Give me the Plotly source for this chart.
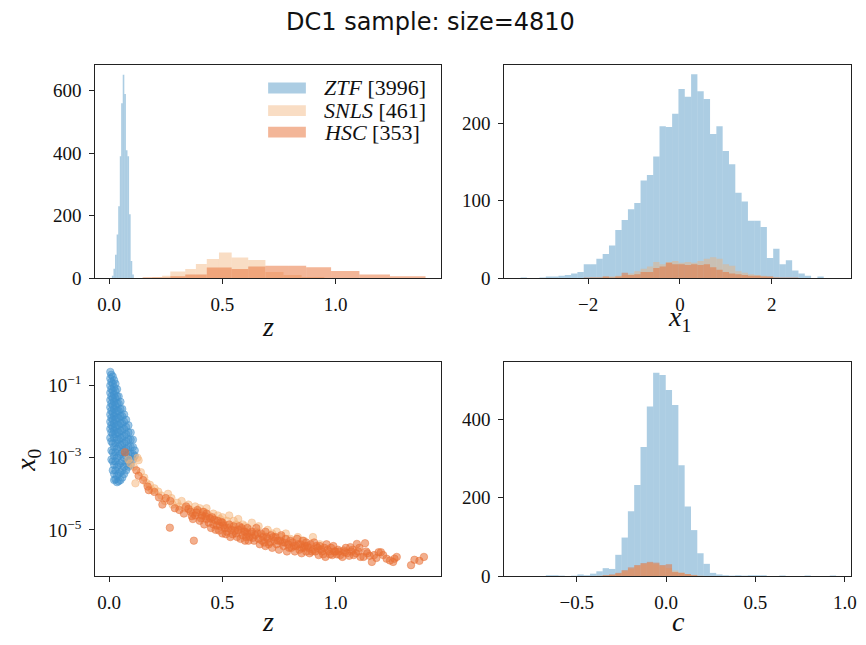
import numpy as np
import plotly.graph_objects as go

# ---------------- data ----------------
survey_names = ["ZTF", "SNLS", "HSC"]
survey_sizes = [3996, 461, 353]
sample_size = 4810

# z histograms (bin edges, counts)
ztf_z_edges = [0.012, 0.019, 0.026, 0.033, 0.040, 0.047, 0.053, 0.060, 0.067,
               0.074, 0.081, 0.088, 0.095, 0.102, 0.109]
ztf_z_counts = [8, 30, 75, 140, 230, 390, 560, 651, 590, 410, 390, 205, 55, 12]
snls_z_edges = [0.145, 0.19, 0.234, 0.27, 0.336, 0.383, 0.431, 0.485, 0.541,
                0.614, 0.69, 0.77, 0.85, 0.95]
snls_z_counts = [2, 4, 8, 21, 29, 45, 61, 82, 66, 58, 20, 10, 4]
hsc_z_edges = [0.15, 0.27, 0.336, 0.431, 0.541, 0.614, 0.69, 0.79, 0.87,
               0.98, 1.105, 1.24, 1.397]
hsc_z_counts = [2, 6, 12, 34, 29, 37, 40, 40, 35, 23, 12, 6]

# x1 histograms
ztf_x1_range = (-3.47, 3.13)
ztf_x1_counts = [1, 0, 0, 1, 2, 2, 3, 4, 6, 8, 18, 18, 25, 31, 42, 62, 75, 89,
                 97, 126, 133, 157, 196, 195, 212, 244, 234, 263, 241, 231,
                 186, 196, 164, 147, 110, 99, 74, 74, 66, 26, 38, 18, 23, 10,
                 6, 3, 0, 2]
snls_x1_range = (-2.095, 2.305)
snls_x1_counts = [0, 1, 1, 2, 2, 3, 4, 6, 9, 12, 15, 21, 18, 21, 22, 20, 21,
                  20, 22, 25, 27, 25, 18, 16, 9, 7, 5, 4, 3, 2, 1, 0]
hsc_x1_range = (-2.095, 2.58)
hsc_x1_counts = [1, 1, 1, 2, 1, 2, 7, 4, 5, 8, 8, 13, 15, 20, 18, 18, 17, 18,
                 17, 18, 14, 11, 8, 6, 5, 4, 3, 3, 2, 2, 1, 1, 1, 1]

# c histograms
c_range = (-0.6725, 0.9513)
ztf_c_counts = [2, 2, 1, 0, 1, 4, 2, 6, 12, 20, 18, 54, 98, 165, 232, 329, 432,
                518, 512, 474, 436, 282, 177, 117, 58, 31, 8, 4, 2, 1, 2, 1, 2,
                2, 2, 0, 0, 1, 0, 0, 0, 1, 0, 0, 0, 1]
snls_c_counts = [0, 0, 0, 0, 0, 0, 0, 0, 1, 2, 3, 6, 12, 18, 25, 30, 33, 30,
                 25, 20, 14, 9, 5, 3, 1, 0]
hsc_c_counts = [0, 0, 0, 0, 0, 0, 0, 0, 0, 2, 4, 8, 15, 22, 28, 33, 36, 34,
                28, 30, 10, 8, 5, 2, 0, 0]

# scatter: z vs x0 (x0 stored as log10 values)
ztf_scatter = {
    0.005: [-0.62, -0.8, -1.0, -1.2, -1.4, -1.6, -1.8, -2.0, -2.2, -2.45],
    0.010: [-0.7, -0.9, -1.1, -1.3, -1.5, -1.7, -1.9, -2.1, -2.3, -2.55, -2.8, -3.05],
    0.016: [-0.75, -0.95, -1.15, -1.35, -1.55, -1.75, -1.95, -2.15, -2.35, -2.6, -2.85, -3.1, -3.35],
    0.022: [-0.85, -1.05, -1.25, -1.45, -1.65, -1.85, -2.05, -2.25, -2.45, -2.7, -2.95, -3.2, -3.45, -3.62],
    0.028: [-0.95, -1.15, -1.35, -1.55, -1.75, -1.95, -2.15, -2.35, -2.6, -2.85, -3.1, -3.35, -3.6],
    0.035: [-1.1, -1.3, -1.5, -1.7, -1.9, -2.1, -2.3, -2.5, -2.75, -3.0, -3.25, -3.5, -3.68],
    0.042: [-1.3, -1.5, -1.7, -1.9, -2.1, -2.3, -2.5, -2.7, -2.95, -3.2, -3.45, -3.65],
    0.050: [-1.45, -1.65, -1.85, -2.05, -2.25, -2.45, -2.65, -2.9, -3.15, -3.4, -3.62],
    0.058: [-1.65, -1.85, -2.05, -2.25, -2.45, -2.65, -2.85, -3.1, -3.35, -3.55],
    0.066: [-1.8, -2.0, -2.2, -2.4, -2.6, -2.8, -3.0, -3.25, -3.45],
    0.075: [-1.95, -2.15, -2.35, -2.55, -2.75, -2.95, -3.15, -3.35],
    0.085: [-2.1, -2.3, -2.5, -2.7, -2.9, -3.1, -3.25],
    0.095: [-2.3, -2.5, -2.7, -2.9, -3.05, -3.2],
    0.105: [-2.5, -2.7, -2.9, -3.05],
    0.113: [-2.8, -2.95],
}
snls_scatter_z = [0.085, 0.094, 0.109, 0.116, 0.125, 0.13, 0.14, 0.155, 0.165, 0.18,
                  0.19, 0.2, 0.217, 0.23, 0.246, 0.26, 0.275, 0.28, 0.3, 0.31,
                  0.32, 0.335, 0.35, 0.36, 0.37, 0.38, 0.395, 0.4, 0.41, 0.42,
                  0.43, 0.44, 0.45, 0.46, 0.47, 0.48, 0.49, 0.5, 0.51, 0.52,
                  0.53, 0.54, 0.55, 0.56, 0.57, 0.58, 0.59, 0.6, 0.62, 0.63,
                  0.65, 0.66, 0.68, 0.7, 0.72, 0.74, 0.76, 0.78, 0.8, 0.833,
                  0.86, 0.9, 0.93]
snls_scatter_logx0 = [-3.05, -3.16, -3.25, -3.71, -3.0, -3.07, -3.4, -3.55, -3.7, -3.75,
                      -3.9, -3.85, -3.94, -4.05, -4.2, -4.0, -4.12, -4.3, -4.25, -4.35,
                      -4.2, -4.4, -4.3, -4.45, -4.55, -4.35, -4.5, -4.4, -4.65, -4.5,
                      -4.4, -4.6, -4.7, -4.55, -4.75, -4.6, -4.7, -4.65, -4.85, -4.75,
                      -4.6, -4.9, -4.75, -4.85, -4.7, -5.0, -4.85, -4.9, -5.0, -4.8,
                      -5.05, -4.9, -5.15, -5.0, -5.1, -5.05, -5.2, -5.1, -5.25, -5.2,
                      -5.3, -5.2, -5.4]
hsc_scatter = [
    (0.07, -2.85),
    (0.12, -3.35), (0.13, -3.5), (0.15, -3.62), (0.17, -3.8), (0.175, -3.9), (0.2, -3.95),
    (0.22, -4.1), (0.235, -4.3), (0.25, -4.12), (0.27, -4.2), (0.268, -4.94), (0.29, -4.4),
    (0.31, -4.45), (0.33, -4.55), (0.34, -4.35),
    (0.36, -4.5), (0.37, -4.7), (0.374, -5.3), (0.38, -4.6), (0.39, -4.45), (0.4, -4.75),
    (0.41, -4.6), (0.42, -4.85), (0.43, -4.7), (0.43, -4.55),
    (0.44, -4.8), (0.45, -4.95), (0.455, -4.65), (0.46, -4.85), (0.47, -5.0), (0.48, -4.75),
    (0.49, -4.9), (0.5, -5.1), (0.5, -4.8), (0.51, -4.95), (0.52, -5.05), (0.53, -4.85),
    (0.535, -5.2), (0.54, -5.0),
    (0.55, -4.9), (0.56, -5.1), (0.57, -5.0), (0.58, -5.25), (0.585, -4.95), (0.59, -5.15),
    (0.6, -5.05), (0.6, -5.3), (0.61, -5.1), (0.61, -4.95),
    (0.62, -5.2), (0.63, -5.05), (0.64, -5.3), (0.645, -5.15), (0.65, -4.95), (0.66, -5.25),
    (0.665, -5.4), (0.67, -5.1), (0.68, -5.2), (0.685, -5.35), (0.69, -5.05), (0.69, -5.45),
    (0.7, -5.25), (0.71, -5.35), (0.715, -5.15), (0.72, -5.5), (0.73, -5.3), (0.735, -5.2),
    (0.74, -5.4), (0.75, -5.55), (0.755, -5.3), (0.76, -5.15), (0.77, -5.45), (0.775, -5.35),
    (0.78, -5.25), (0.785, -5.6), (0.79, -5.4),
    (0.8, -5.3), (0.805, -5.5), (0.81, -5.35), (0.82, -5.6), (0.825, -5.45), (0.83, -5.25),
    (0.84, -5.55), (0.845, -5.4), (0.85, -5.65), (0.855, -5.3), (0.86, -5.5), (0.865, -5.45),
    (0.87, -5.6), (0.87, -5.35),
    (0.88, -5.5), (0.885, -5.65), (0.89, -5.4), (0.9, -5.55), (0.905, -5.35), (0.91, -5.6),
    (0.92, -5.5), (0.925, -5.7), (0.93, -5.45), (0.94, -5.6), (0.95, -5.5), (0.955, -5.75),
    (0.96, -5.4), (0.97, -5.6),
    (0.98, -5.5), (0.985, -5.7), (0.99, -5.45), (1.0, -5.6), (1.01, -5.55), (1.02, -5.7),
    (1.03, -5.75), (1.036, -5.57), (1.045, -5.5), (1.05, -5.65), (1.065, -5.48), (1.07, -5.6),
    (1.08, -5.7), (1.094, -5.39),
    (1.1, -5.6), (1.11, -5.75), (1.123, -5.75), (1.13, -5.37), (1.14, -5.65), (1.16, -5.89),
    (1.17, -5.7), (1.2, -5.62),
    (1.225, -5.8), (1.254, -5.89), (1.27, -5.75), (1.333, -5.98), (1.348, -5.83),
    (1.37, -5.86), (1.39, -5.75),
    (0.35, -4.42), (0.365, -4.62), (0.385, -4.52), (0.405, -4.68), (0.415, -4.5),
    (0.425, -4.62), (0.445, -4.68), (0.465, -4.72), (0.475, -4.88), (0.485, -5.02),
    (0.495, -4.78), (0.505, -4.88), (0.515, -5.12), (0.525, -4.95), (0.545, -5.12),
    (0.555, -5.02), (0.565, -5.2), (0.575, -4.9), (0.595, -5.05), (0.605, -5.2),
    (0.615, -5.3), (0.625, -5.1), (0.635, -5.22), (0.655, -5.1), (0.675, -5.3),
    (0.695, -5.2), (0.705, -5.4), (0.725, -5.2), (0.745, -5.3), (0.765, -5.35),
    (0.795, -5.5), (0.815, -5.45), (0.835, -5.4), (0.85, -5.5), (0.875, -5.45),
    (0.895, -5.6), (0.915, -5.45), (0.935, -5.55), (0.945, -5.68), (0.965, -5.55),
    (0.975, -5.68), (0.995, -5.6), (1.005, -5.68), (1.015, -5.6), (1.04, -5.62),
    (1.06, -5.72), (1.075, -5.55), (1.09, -5.65), (1.105, -5.5), (1.135, -5.6),
    (1.15, -5.72), (1.18, -5.78), (1.19, -5.62), (1.21, -5.7), (1.24, -5.85), (1.26, -5.8),
]

# tick labels
z_ticks = [0.0, 0.5, 1.0]
z_ticktext = ["0.0", "0.5", "1.0"]
x1_ticks = [-2, 0, 2]
x1_ticktext = ["\u22122", "0", "2"]
c_ticks = [-0.5, 0.0, 0.5, 1.0]
c_ticktext = ["\u22120.5", "0.0", "0.5", "1.0"]
x0_ticks = [1e-1, 1e-3, 1e-5]
x0_ticktext = ["10<sup>\u22121</sup>", "10<sup>\u22123</sup>", "10<sup>\u22125</sup>"]

# ---------------- styling ----------------
W, H = 866, 645
SERIF = "Liberation Serif"
hist_colors = {"ZTF": "rgba(31,119,180,0.37)",
               "SNLS": "rgba(240,175,115,0.42)",
               "HSC": "rgba(232,110,50,0.5)"}
scat_colors = {"ZTF": "rgba(65,145,205,0.5)",
               "SNLS": "rgba(245,180,120,0.5)",
               "HSC": "rgba(232,110,50,0.55)"}


def px_x(p):
    return p / W


def px_y(p):
    return 1 - p / H


fig = go.Figure()


def add_hist(edges, counts, color, xa, ya):
    edges = np.asarray(edges, dtype=float)
    centers = (edges[:-1] + edges[1:]) / 2
    widths = np.diff(edges)
    fig.add_trace(go.Bar(x=centers, y=counts, width=widths, xaxis=xa, yaxis=ya,
                         marker=dict(color=color, line=dict(width=0)),
                         hoverinfo="skip"))


def edges_from(rng, counts):
    return np.linspace(rng[0], rng[1], len(counts) + 1)


# top-left: z histograms
add_hist(ztf_z_edges, ztf_z_counts, hist_colors["ZTF"], "x", "y")
add_hist(snls_z_edges, snls_z_counts, hist_colors["SNLS"], "x", "y")
add_hist(hsc_z_edges, hsc_z_counts, hist_colors["HSC"], "x", "y")

# top-right: x1
add_hist(edges_from(ztf_x1_range, ztf_x1_counts), ztf_x1_counts, hist_colors["ZTF"], "x2", "y2")
add_hist(edges_from(snls_x1_range, snls_x1_counts), snls_x1_counts, hist_colors["SNLS"], "x2", "y2")
add_hist(edges_from(hsc_x1_range, hsc_x1_counts), hsc_x1_counts, hist_colors["HSC"], "x2", "y2")

# bottom-right: c
c_edges_all = edges_from(c_range, ztf_c_counts)
add_hist(c_edges_all, ztf_c_counts, hist_colors["ZTF"], "x4", "y4")
add_hist(c_edges_all[:len(snls_c_counts) + 1], snls_c_counts, hist_colors["SNLS"], "x4", "y4")
add_hist(c_edges_all[:len(hsc_c_counts) + 1], hsc_c_counts, hist_colors["HSC"], "x4", "y4")

# bottom-left: scatter
zz, ll = [], []
for zval, logs in ztf_scatter.items():
    for lv in logs:
        zz.append(zval)
        ll.append(lv)


def add_scatter(zs, logs, color):
    fig.add_trace(go.Scatter(x=zs, y=[10 ** v for v in logs], mode="markers",
                             xaxis="x3", yaxis="y3", hoverinfo="skip",
                             marker=dict(size=7.5, color=color,
                                         line=dict(width=0.8, color=color))))


add_scatter(zz, ll, scat_colors["ZTF"])
add_scatter(snls_scatter_z, snls_scatter_logx0, scat_colors["SNLS"])
add_scatter([p[0] for p in hsc_scatter], [p[1] for p in hsc_scatter], scat_colors["HSC"])

# ---------------- axes ----------------
common = dict(showline=True, linecolor="#222", linewidth=1.2, mirror=True,
              ticks="outside", ticklen=5, tickwidth=1.1, tickcolor="#222",
              showgrid=False, zeroline=False, ticklabelstandoff=4,
              tickfont=dict(family=SERIF, size=19, color="#111"))

xd_left = [px_x(96), px_x(444)]
xd_right = [px_x(508), px_x(857)]
yd_top = [px_y(283), px_y(66)]
yd_bot = [px_y(586), px_y(368)]

fig.update_layout(
    width=W, height=H, margin=dict(l=0, r=0, t=0, b=0),
    paper_bgcolor="white", plot_bgcolor="white",
    barmode="overlay", showlegend=False,
    xaxis=dict(common, domain=xd_left, anchor="y", range=[-0.061, 1.465],
               tickvals=z_ticks, ticktext=z_ticktext),
    yaxis=dict(common, domain=yd_top, anchor="x", range=[0, 683],
               tickvals=[0, 200, 400, 600]),
    xaxis2=dict(common, domain=xd_right, anchor="y2", range=[-3.82, 3.725],
                tickvals=x1_ticks, ticktext=x1_ticktext),
    yaxis2=dict(common, domain=yd_top, anchor="x2", range=[0, 275],
                tickvals=[0, 100, 200]),
    xaxis3=dict(common, domain=xd_left, anchor="y3", range=[-0.061, 1.465],
                tickvals=z_ticks, ticktext=z_ticktext),
    yaxis3=dict(common, domain=yd_bot, anchor="x3", type="log",
                range=[-6.28, -0.338], tickvals=x0_ticks, ticktext=x0_ticktext),
    xaxis4=dict(common, domain=xd_right, anchor="y4", range=[-0.904, 1.035],
                tickvals=c_ticks, ticktext=c_ticktext),
    yaxis4=dict(common, domain=yd_bot, anchor="x4", range=[0, 546],
                tickvals=[0, 200, 400]),
)

# ---------------- texts ----------------
ann = []
ann.append(dict(text=f"DC1 sample: size={sample_size}", x=0.5, y=px_y(22),
                xref="paper", yref="paper", showarrow=False, xanchor="center",
                yanchor="middle", font=dict(family="DejaVu Sans", size=24, color="#111")))
lab_font = dict(family=SERIF, size=28, color="#111")
ann.append(dict(text="<i>z</i>", x=px_x(270), y=px_y(332), xref="paper", yref="paper",
                showarrow=False, xanchor="center", yanchor="middle", font=lab_font))
ann.append(dict(text="<i>x</i><sub>1</sub>", x=px_x(684), y=px_y(324), xref="paper",
                yref="paper", showarrow=False, xanchor="center", yanchor="middle",
                font=lab_font))
ann.append(dict(text="<i>z</i>", x=px_x(270), y=px_y(632), xref="paper", yref="paper",
                showarrow=False, xanchor="center", yanchor="middle", font=lab_font))
ann.append(dict(text="<i>c</i>", x=px_x(683), y=px_y(632), xref="paper", yref="paper",
                showarrow=False, xanchor="center", yanchor="middle", font=lab_font))
ann.append(dict(text="<i>x</i><sub>0</sub>", x=px_x(27), y=px_y(468), xref="paper",
                yref="paper", showarrow=False, xanchor="center", yanchor="middle",
                textangle=-90, font=lab_font))

# legend (manual)
shapes = []
row_y = [89.5, 112.5, 134.5]
for name, size, ry in zip(survey_names, survey_sizes, row_y):
    shapes.append(dict(type="rect", xref="paper", yref="paper",
                       x0=px_x(270), x1=px_x(308), y0=px_y(ry + 5.5), y1=px_y(ry - 5.5),
                       fillcolor=hist_colors[name], line=dict(width=0)))
    ann.append(dict(text=f"<i>{name}</i> [{size}]", x=px_x(324), y=px_y(ry),
                    xref="paper", yref="paper", showarrow=False, xanchor="left",
                    yanchor="middle", font=dict(family=SERIF, size=22, color="#111")))

fig.update_layout(annotations=ann, shapes=shapes)

page_fix = (
    "document.documentElement.style.margin='0px';"
    "document.documentElement.style.overflow='hidden';"
    "document.body.style.margin='0px';"
    "document.body.style.padding='0px';"
    "document.body.style.overflow='hidden';"
)
fig.write_html("out.html", config={"displayModeBar": False}, post_script=page_fix)
